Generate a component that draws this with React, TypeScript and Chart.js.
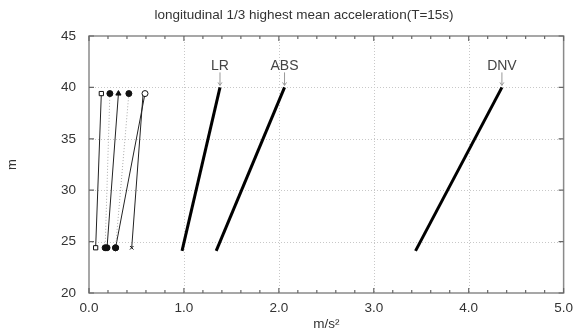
import React, { useEffect, useRef } from "react";
import { Chart, registerables } from "chart.js";

Chart.register(...registerables);

// x-axis ticks and y-axis ticks
const xMajor = [0, 1, 2, 3, 4, 5];
const yMajor = [20, 25, 30, 35, 40, 45];
const xMinorStep = 0.2;

// heights of end points (m)
const ySmall = [24.4, 39.4];
const yLarge = [24.1, 40.0];

// small series (m/s^2), bottom -> top
const sA = [0.07, 0.13];
const sB = [0.17, 0.22];
const sC = [0.19, 0.31];
const sD = [0.28, 0.42];
const sE = [0.28, 0.59];
const sF = [0.45, 0.57];

// rules
const ruleNames = ["LR", "ABS", "DNV"];
const lr = [0.98, 1.38];
const abs = [1.34, 2.06];
const dnv = [3.44, 4.35];

const FONT = "'Liberation Sans', Arial, Helvetica, sans-serif";

function pts(xs: number[], ys: number[]) {
  return xs.map((x, i) => ({ x, y: ys[i] }));
}

const framePlugin = {
  id: "frame",
  beforeDatasetsDraw(chart: any) {
    const { ctx, chartArea: a, scales } = chart;
    const xs = scales.x;
    const ys = scales.y;
    ctx.save();
    ctx.strokeStyle = "#c8c8c8";
    ctx.lineWidth = 1;
    ctx.setLineDash([1, 2]);
    xMajor.slice(1, -1).forEach((v) => {
      const px = Math.round(xs.getPixelForValue(v)) + 0.5;
      ctx.beginPath();
      ctx.moveTo(px, a.top);
      ctx.lineTo(px, a.bottom);
      ctx.stroke();
    });
    yMajor.slice(1, -1).forEach((v) => {
      const py = Math.round(ys.getPixelForValue(v)) + 0.5;
      ctx.beginPath();
      ctx.moveTo(a.left, py);
      ctx.lineTo(a.right, py);
      ctx.stroke();
    });
    ctx.setLineDash([]);
    ctx.restore();
  },
  afterDatasetsDraw(chart: any) {
    const { ctx, chartArea: a, scales } = chart;
    const xs = scales.x;
    const ys = scales.y;
    ctx.save();
    ctx.strokeStyle = "#8a8a8a";
    ctx.lineWidth = 1.5;
    ctx.strokeRect(a.left, a.top, a.right - a.left, a.bottom - a.top);
    ctx.lineWidth = 1.2;
    ctx.strokeStyle = "#666";
    const n = Math.round((xMajor[xMajor.length - 1] - xMajor[0]) / xMinorStep);
    for (let i = 0; i <= n; i++) {
      const v = xMajor[0] + i * xMinorStep;
      const px = xs.getPixelForValue(v);
      const major = i % 5 === 0;
      const len = major ? 5 : 3;
      ctx.beginPath();
      ctx.moveTo(px, a.bottom);
      ctx.lineTo(px, a.bottom - len);
      ctx.moveTo(px, a.top);
      ctx.lineTo(px, a.top + len);
      ctx.stroke();
    }
    yMajor.forEach((v) => {
      const py = ys.getPixelForValue(v);
      ctx.beginPath();
      ctx.moveTo(a.left, py);
      ctx.lineTo(a.left + 5, py);
      ctx.moveTo(a.right, py);
      ctx.lineTo(a.right - 5, py);
      ctx.stroke();
    });
    const rules = [lr, abs, dnv];
    ctx.font = `14px ${FONT}`;
    ctx.textAlign = "center";
    ctx.textBaseline = "middle";
    rules.forEach((r, i) => {
      const px = xs.getPixelForValue(r[1]);
      const py = ys.getPixelForValue(yLarge[1]);
      ctx.fillStyle = "#444";
      ctx.fillText(ruleNames[i], px, py - 21);
      ctx.strokeStyle = "#999";
      ctx.lineWidth = 1;
      ctx.beginPath();
      ctx.moveTo(px, py - 15);
      ctx.lineTo(px, py - 2);
      ctx.stroke();
      ctx.beginPath();
      ctx.moveTo(px - 2, py - 5);
      ctx.lineTo(px, py - 2);
      ctx.lineTo(px + 2, py - 5);
      ctx.stroke();
    });
    ctx.fillStyle = "#333";
    ctx.font = `13.5px ${FONT}`;
    ctx.fillText("longitudinal 1/3 highest mean acceleration(T=15s)", 304, 15);
    ctx.restore();
  },
};

export default function App() {
  const ref = useRef<HTMLCanvasElement>(null);
  useEffect(() => {
    if (!ref.current) return;
    const solid = (data: any[], style: any, fill: any, extra: any = {}) => ({
      data,
      showLine: true,
      borderColor: "#222",
      borderWidth: 1,
      pointStyle: style,
      pointRadius: 3,
      pointBackgroundColor: fill,
      pointBorderColor: "#111",
      pointBorderWidth: 1,
      ...extra,
    });
    const chart = new Chart(ref.current, {
      type: "scatter",
      data: {
        datasets: [
          solid(pts(sA, ySmall), "rect", "#fff"),
          solid(pts(sB, ySmall), "circle", "#111", { borderColor: "#aaa", borderDash: [1, 2] }),
          solid(pts(sC, ySmall), ["circle", "triangle"], "#111"),
          solid(pts(sD, ySmall), "circle", "#111", { borderColor: "#aaa", borderDash: [1, 2] }),
          solid(pts(sE, ySmall), "circle", ["#111", "#fff"]),
          solid(pts(sF, ySmall), ["crossRot", "circle"], "#111", { pointRadius: [2.5, 0] }),
          solid(pts(lr, yLarge), "circle", "#111", { borderWidth: 3, borderColor: "#000", pointRadius: 0 }),
          solid(pts(abs, yLarge), "circle", "#111", { borderWidth: 3, borderColor: "#000", pointRadius: 0 }),
          solid(pts(dnv, yLarge), "circle", "#111", { borderWidth: 3, borderColor: "#000", pointRadius: 0 }),
        ],
      },
      options: {
        responsive: false,
        animation: false,
        devicePixelRatio: 1,
        layout: { padding: { left: 0, right: 16, top: 36, bottom: 0 } },
        plugins: { legend: { display: false }, tooltip: { enabled: false }, title: { display: false } },
        scales: {
          x: {
            type: "linear",
            min: 0,
            max: 5,
            afterBuildTicks: (s: any) => {
              s.ticks = xMajor.map((v) => ({ value: v }));
            },
            afterFit: (s: any) => {
              s.height = 43;
            },
            grid: { display: false, drawTicks: false },
            border: { display: false },
            ticks: {
              padding: 7,
              color: "#333",
              font: { family: FONT, size: 13.5 },
              callback: (v: any) => Number(v).toFixed(1),
            },
            title: {
              display: true,
              text: "m/s²",
              color: "#333",
              font: { family: FONT, size: 13.5 },
              padding: { top: 0, bottom: 4 },
            },
          },
          y: {
            type: "linear",
            min: 20,
            max: 45,
            afterBuildTicks: (s: any) => {
              s.ticks = yMajor.map((v) => ({ value: v }));
            },
            afterFit: (s: any) => {
              s.width = 89;
            },
            grid: { display: false, drawTicks: false },
            border: { display: false },
            ticks: { padding: 13, color: "#333", font: { family: FONT, size: 13.5 } },
            title: {
              display: true,
              text: "m",
              color: "#333",
              font: { family: FONT, size: 13 },
              padding: { top: 5, bottom: 0 },
            },
          },
        },
      },
      plugins: [framePlugin],
    } as any);
    return () => chart.destroy();
  }, []);
  return (
    <div style={{ position: "absolute", left: 0, top: 0, width: 580, height: 336, background: "#fff" }}>
      <canvas ref={ref} width={580} height={336} style={{ display: "block", width: 580, height: 336 }} />
    </div>
  );
}
